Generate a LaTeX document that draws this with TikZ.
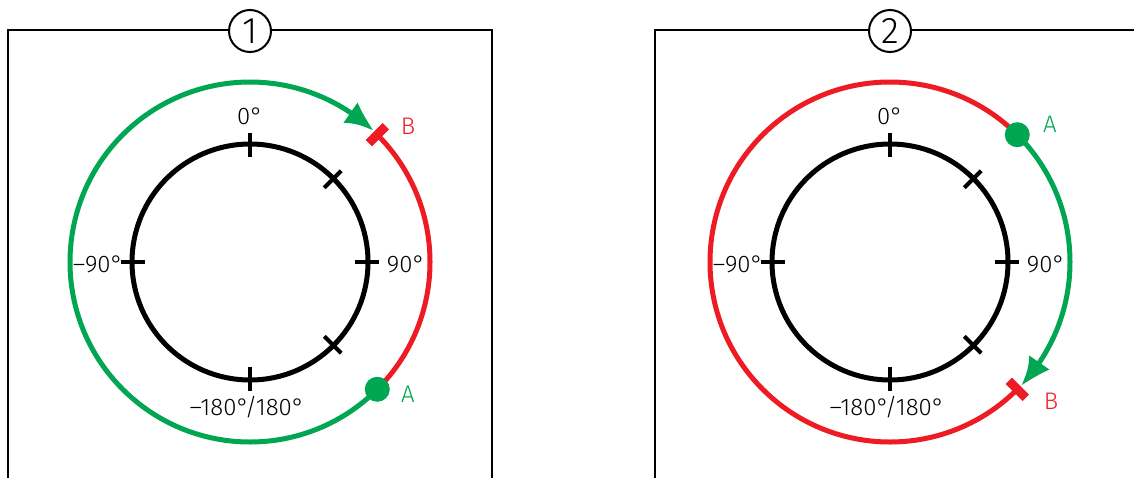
\documentclass[tikz,border=0pt]{standalone}
\usepackage{fontspec}
\setmainfont{Fira Sans}[UprightFont=* Light]
\usetikzlibrary{arrows.meta,bending,calc}
\definecolor{cgreen}{RGB}{0,166,81}
\definecolor{cred}{RGB}{237,28,36}
\tikzset{
  frame/.style={line width=2.5pt,black},
  dial/.style={line width=5pt,black},
  tickmark/.style={line width=4pt,black},
  arcg/.style={cgreen,line width=5pt},
  arcr/.style={cred,line width=5pt},
  tbar/.style={cred,line width=9pt},
  adot/.style={circle,fill=cgreen,minimum size=25pt,inner sep=0pt},
  lbl/.style={inner sep=0pt,font=\fontsize{24}{24}\selectfont},
  ptl/.style={inner sep=0pt,font=\fontsize{24}{24}\selectfont},
  num/.style={circle,draw,fill=white,line width=2pt,minimum size=42pt,inner sep=0pt,font=\fontsize{37}{37}\selectfont},
  arrowg/.style={-{Latex[length=30pt,width=25pt,bend]}}
}
\begin{document}
\begin{tikzpicture}[x=1pt,y=-1pt]
\useasboundingbox (0,0) rectangle (1134,477);
% ---------- panel 1 ----------
\coordinate (c1) at (250,262);
\draw[frame] (8,480) -- (8,30) -- (492,30) -- (492,480);
\node[num] (n1) at (250,31) {1};
\draw[dial] (c1) circle[radius=118];
\foreach \a in {-90,-45,0,45,90,180}
  \draw[tickmark] ($(c1)+(\a:105)$) -- ($(c1)+(\a:129)$);
\node[lbl] (t0a) at (250,116) {0°};
\node[lbl] (t90a) at (406,264) {90°};
\node[lbl] (tm90a) at (98,264) {–90°};
\node[lbl] (t180a) at (247,407) {–180°/180°};
\coordinate (A1) at ($(c1)+(45:180)$);
\coordinate (B1) at ($(c1)+(-45:180)$);
\draw[arcr] (B1) arc[start angle=-45,end angle=45,radius=180];
\draw[arcg,arrowg] (A1) arc[start angle=45,end angle=313.4,radius=180];
\draw[tbar] ($(c1)+(-45:168)$) -- ($(c1)+(-45:192)$);
\node[adot] (dA1) at (A1) {};
\node[ptl,text=cgreen] (lA1) at (408,394) {A};
\node[ptl,text=cred] (lB1) at (408,126) {B};
% ---------- panel 2 ----------
\coordinate (c2) at (890,262);
\draw[frame] (655,480) -- (655,30) -- (1140,30);
\node[num] (n2) at (890,31) {2};
\draw[dial] (c2) circle[radius=118];
\foreach \a in {-90,-45,0,45,90,180}
  \draw[tickmark] ($(c2)+(\a:105)$) -- ($(c2)+(\a:129)$);
\node[lbl] (t0b) at (890,116) {0°};
\node[lbl] (t90b) at (1046,264) {90°};
\node[lbl] (tm90b) at (738,264) {–90°};
\node[lbl] (t180b) at (887,407) {–180°/180°};
\coordinate (A2) at ($(c2)+(-45:180)$);
\coordinate (B2) at ($(c2)+(45:180)$);
\draw[arcr] (B2) arc[start angle=45,end angle=315,radius=180];
\draw[arcg,arrowg] (A2) arc[start angle=-45,end angle=43.4,radius=180];
\draw[tbar] ($(c2)+(45:168)$) -- ($(c2)+(45:192)$);
\node[adot] (dA2) at (A2) {};
\node[ptl,text=cgreen] (lA2) at (1050,124) {A};
\node[ptl,text=cred] (lB2) at (1051,401) {B};
\end{tikzpicture}
\end{document}
